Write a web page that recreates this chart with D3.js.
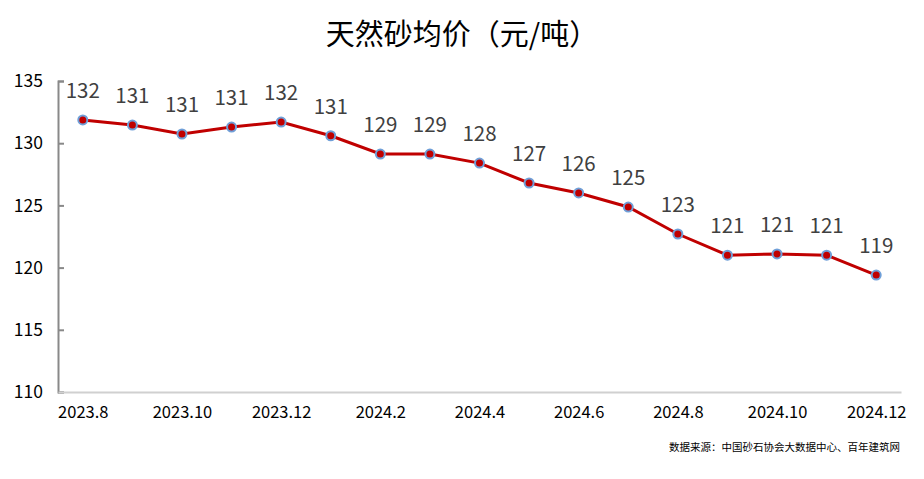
<!DOCTYPE html>
<html>
<head>
<meta charset="utf-8">
<script src="https://cdn.jsdelivr.net/npm/d3@7"></script>
<style>
  body { margin: 0; background: #fff; }
  text { font-family: "Noto Sans CJK SC", "Noto Sans", sans-serif; }
</style>
</head>
<body>
<div id="chart"></div>
<script>
const months = ["2023.8", "2023.9", "2023.10", "2023.11", "2023.12", "2024.1", "2024.2", "2024.3",
  "2024.4", "2024.5", "2024.6", "2024.7", "2024.8", "2024.9", "2024.10", "2024.11", "2024.12"];
const prices = [131.87, 131.46, 130.74, 131.3, 131.7, 130.6, 129.13, 129.13,
  128.4, 126.8, 126.0, 124.87, 122.7, 121.0, 121.1, 121.0, 119.4];
const yTicks = [110, 115, 120, 125, 130, 135];
const xTickLabels = ["2023.8", "2023.10", "2023.12", "2024.2", "2024.4", "2024.6", "2024.8", "2024.10", "2024.12"];

const W = 924, H = 479;
const margin = { top: 81, right: 23, bottom: 87, left: 58 };
const width = W - margin.left - margin.right;
const height = H - margin.top - margin.bottom;

const svg = d3.select("#chart").append("svg")
  .attr("width", W).attr("height", H);

// Title
svg.append("text")
  .attr("x", 462).attr("y", 45)
  .attr("text-anchor", "middle")
  .style("font-size", "29px")
  .style("fill", "#000")
  .text("天然砂均价（元/吨）");

const g = svg.append("g").attr("transform", `translate(${margin.left},${margin.top})`);

const x = d3.scalePoint().domain(months).range([0, width]).padding(0.5);
const y = d3.scaleLinear().domain([110, 135]).range([height, 0]);

// y axis
const yAxis = g.append("g")
  .call(d3.axisLeft(y).tickValues(yTicks).tickSize(-6).tickPadding(15));
yAxis.select(".domain").attr("stroke", "#898989").attr("stroke-width", 2);
yAxis.selectAll(".tick line").attr("stroke", "#898989").attr("stroke-width", 2);
yAxis.selectAll("text").style("font-size", "17.5px").style("fill", "#000")
  .attr("font-family", "'Noto Sans', sans-serif");

// x axis
const xAxis = g.append("g").attr("transform", `translate(0,${height})`)
  .call(d3.axisBottom(x).tickValues(xTickLabels).tickSize(0).tickPadding(14));
xAxis.select(".domain").attr("stroke", "#d0d0d0").attr("stroke-width", 2);
xAxis.selectAll("text").style("font-size", "16.5px").style("fill", "#000")
  .attr("font-family", "'Noto Sans', sans-serif");

const data = months.map((m, i) => ({ m, v: prices[i] }));

// line
g.append("path")
  .datum(data)
  .attr("fill", "none")
  .attr("stroke", "#c00000")
  .attr("stroke-width", 3)
  .attr("d", d3.line().x(d => x(d.m)).y(d => y(d.v)));

// markers
g.selectAll(".dot").data(data).enter().append("circle")
  .attr("class", "dot")
  .attr("cx", d => x(d.m)).attr("cy", d => y(d.v))
  .attr("r", 4.5)
  .attr("fill", "#c00000")
  .attr("stroke", "#6f9fd8")
  .attr("stroke-width", 2);

// value labels
g.selectAll(".lbl").data(data).enter().append("text")
  .attr("class", "lbl")
  .attr("x", d => x(d.m)).attr("y", d => y(d.v) - 22)
  .attr("text-anchor", "middle")
  .attr("font-family", "'Noto Sans', sans-serif")
  .style("font-size", "20.5px")
  .style("fill", "#404040")
  .text(d => d3.format(".0f")(d.v));

// source
svg.append("text")
  .attr("x", 900).attr("y", 451)
  .attr("text-anchor", "end")
  .style("font-size", "10.5px")
  .style("fill", "#000")
  .text("数据来源：中国砂石协会大数据中心、百年建筑网");
</script>
</body>
</html>
